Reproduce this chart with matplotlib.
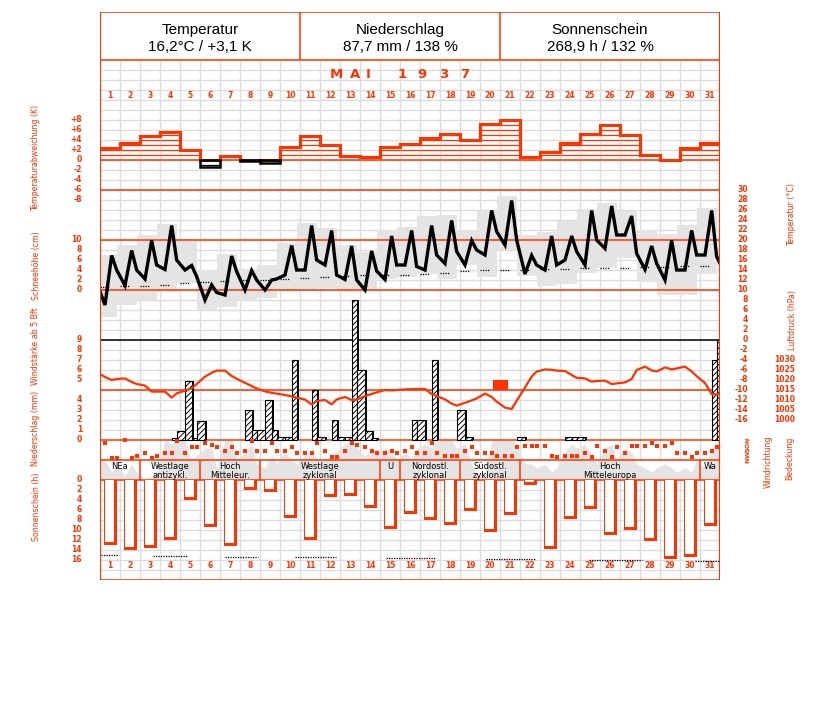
import numpy as np
import matplotlib
matplotlib.use("Agg")
import matplotlib.pyplot as plt
import matplotlib.transforms as mtransforms
from matplotlib import font_manager

# -- colours / fonts --
RED = "#ff3300"
GRAY = "#e4e4e4"
GRID = "#dcdcdc"
names = {f.name for f in font_manager.fontManager.ttflist}
SANS = "Liberation Sans" if "Liberation Sans" in names else "DejaVu Sans"

# -- data: Mai 1937 --
days = np.arange(1, 32)
obs = [0.25, 0.583, 0.833]          # 7h, 14h, 21h as fraction of the day

t_dev = [2.5, 3.5, 4.8, 5.7, 2.1, -1.3, 0.9, -0.1, -0.5, 2.6,
         4.8, 3.1, 0.9, 0.7, 2.7, 3.3, 4.5, 5.3, 4.0, 7.3,
         8.1, 0.7, 1.7, 3.5, 5.3, 7.1, 5.1, 1.1, 0.0, 2.5, 3.5]

t_07 = [7.0, 10.9, 12.2, 14.1, 14.0, 8.0, 9.0, 10.0, 10.0, 13.0,
        14.0, 15.0, 12.1, 10.0, 12.1, 15.0, 14.0, 15.3, 15.0, 17.0,
        19.0, 13.2, 14.0, 16.0, 15.0, 18.3, 21.0, 14.1, 12.0, 14.0, 17.0]
t_14 = [16.9, 17.9, 19.9, 22.9, 14.9, 11.0, 16.8, 13.9, 12.0, 18.9,
        22.9, 21.9, 18.8, 17.8, 20.8, 21.9, 22.9, 23.9, 19.9, 25.9,
        27.9, 16.9, 20.8, 20.8, 25.9, 26.8, 24.8, 18.8, 19.9, 21.9, 25.9]
t_21 = [14.0, 14.0, 15.0, 16.0, 12.7, 9.5, 13.7, 12.0, 12.2, 14.0,
        16.0, 13.0, 12.0, 13.8, 15.0, 14.7, 17.0, 17.7, 18.0, 21.7,
        20.0, 15.0, 15.0, 17.7, 20.0, 21.0, 17.3, 15.3, 14.0, 17.0, 16.7]
t_first, t_last = 9.7, 15.3        # 30 Apr 21h, 1 Jun 7h

t_max = [17.0, 19.0, 21.0, 23.2, 20.3, 14.1, 17.2, 14.3, 15.0, 19.5,
         23.5, 22.5, 19.0, 17.7, 22.1, 22.7, 24.8, 25.0, 22.1, 25.9,
         28.9, 21.0, 21.7, 23.9, 26.2, 27.5, 25.9, 22.0, 21.2, 23.0, 26.5]
t_min = [4.7, 7.0, 8.0, 9.7, 11.5, 6.0, 6.7, 8.0, 8.5, 10.0,
         10.3, 10.5, 9.7, 10.0, 12.3, 12.7, 13.3, 12.2, 15.0, 12.7,
         18.0, 12.8, 10.8, 11.3, 13.5, 14.5, 16.5, 11.7, 9.1, 9.1, 13.3]
t_norm = [10.7, 10.8, 10.9, 11.1, 11.4, 11.6, 11.9, 12.0, 12.1, 12.3,
          12.5, 12.6, 12.8, 13.0, 13.1, 13.1, 13.3, 13.5, 13.9, 14.0,
          14.0, 14.1, 14.2, 14.3, 14.4, 14.5, 14.5, 14.7, 14.7, 14.9, 14.9]

# precipitation (mm) 7-14h, 14-21h, 21-7h
rr_a = [0, 0, 0, 0, 5.9, 0, 0, 3.0, 4.0, 0.3, 0, 0, 0.3, 0.9, 0, 0,
        0, 0, 0.3, 0, 0, 0, 0, 0.3, 0, 0, 0, 0, 0, 0, 0]
rr_b = [0, 0, 0, 0.2, 0.2, 0, 0, 1.0, 1.0, 8.0, 5.0, 2.0, 14.0, 0.2, 0, 2.0,
        8.0, 0, 0, 0, 0, 0, 0, 0.3, 0, 0, 0, 0, 0, 0, 8.0]
rr_c = [0, 0, 0, 0.9, 1.9, 0, 0, 1.0, 0.3, 0, 0.3, 0.3, 7.0, 0, 0, 2.0,
        0, 3.0, 0, 0, 0.3, 0, 0, 0.3, 0, 0, 0, 0, 0, 0, 10.0]
thunder_days = [20]

# air pressure (hPa)
p_07 = [1021.5, 1020.8, 1017.2, 1014.2, 1014.7, 1021.7, 1024.7, 1018.6, 1014.3, 1012.5,
        1010.2, 1010.0, 1011.5, 1012.0, 1015.0, 1015.3, 1015.5, 1010.3, 1008.6, 1013.2,
        1006.2, 1016.3, 1025.3, 1024.5, 1020.8, 1019.7, 1018.8, 1026.7, 1026.3, 1026.7, 1018.5]
p_14 = [1020.0, 1019.0, 1014.2, 1011.2, 1015.8, 1023.6, 1022.0, 1017.0, 1013.6, 1011.8,
        1007.8, 1007.8, 1010.0, 1013.0, 1014.8, 1015.4, 1013.0, 1008.2, 1009.8, 1011.5,
        1005.5, 1021.7, 1025.1, 1022.5, 1019.2, 1018.0, 1020.5, 1024.8, 1025.3, 1024.3, 1013.0]
p_21 = [1020.5, 1018.0, 1014.2, 1013.3, 1018.0, 1024.7, 1020.6, 1015.8, 1013.2, 1011.2,
        1009.5, 1010.3, 1010.2, 1013.8, 1015.0, 1015.5, 1012.0, 1007.2, 1010.8, 1009.2,
        1009.6, 1024.2, 1024.7, 1021.1, 1019.5, 1018.3, 1025.0, 1024.3, 1025.8, 1021.9, 1012.8]
p_first, p_last = 1023.0, 1013.3

# wind direction (degrees) 7h, 14h, 21h
wd_07 = [48, 5, 228, 228, 228, 48, 192, 192, 192, 192, 228, 192, 192, 132, 228, 192,
         228, 288, 192, 228, 288, 102, 102, 288, 228, 192, 228, 102, 102, 228, 228]
wd_14 = [330, 330, 330, 228, 132, 90, 132, 12, 48, 132, 228, 312, 48, 192, 192, 132,
         48, 288, 132, 228, 288, 102, 288, 288, 312, 300, 102, 48, 48, 312, 192]
wd_21 = [330, 288, 288, 12, 132, 132, 228, 192, 192, 228, 48, 312, 90, 228, 228, 228,
         228, 288, 228, 288, 132, 102, 312, 288, 102, 132, 102, 102, 228, 228, 132]

# cloud cover (tenths) 7h, 14h, 21h
n_07 = [5, 1, 0, 10, 10, 8, 10, 7, 3, 7, 6, 5, 9, 6, 8, 7, 9, 10, 9, 2, 10, 4, 4, 7, 9, 8, 8, 3, 4, 3, 3]
n_14 = [2, 4, 1, 9, 5, 8, 10, 9, 6, 5, 7, 6, 10, 8, 7, 5, 8, 10, 4, 10, 10, 4, 2, 9, 6, 9, 7, 2, 3, 2, 8]
n_21 = [4, 2, 2, 10, 6, 3, 5, 4, 4, 4, 5, 7, 8, 7, 5, 8, 10, 8, 1, 10, 9, 3, 3, 8, 4, 5, 4, 3, 2, 5, 9]

# sunshine (h)
sun = [12.9, 14.0, 13.5, 11.9, 3.9, 9.4, 13.1, 1.9, 2.3, 7.5,
       11.9, 3.3, 3.2, 5.5, 9.7, 6.7, 7.9, 8.9, 6.1, 10.3,
       6.9, 1.0, 13.8, 7.7, 5.7, 11.0, 9.9, 12.2, 15.7, 15.4, 9.2]
sun_pos_from = [0.05, 2.63, 6.25, 9.75, 14.3, 19.3, 24.45, 29.75]
sun_pos_to = [0.9, 4.4, 7.9, 11.8, 16.8, 21.8, 27.1, 31.0]
sun_pos_val = [14.9, 15.1, 15.3, 15.4, 15.6, 15.8, 16.0, 16.2]

# Grosswetterlagen
wl_names = ["NEa", "Westlage\nantizykl.", "Hoch\nMitteleur.", "Westlage\nzyklonal", "U",
            "Nordostl.\nzyklonal", "Südostl.\nzyklonal", "Hoch\nMitteleuropa", "Wa"]
wl_first = [1, 3, 6, 9, 15, 16, 19, 22, 31]
wl_last = [2, 5, 8, 14, 15, 18, 21, 30, 31]

header = [("Temperatur", "16,2°C / +3,1 K"),
          ("Niederschlag", "87,7 mm / 138 %"),
          ("Sonnenschein", "268,9 h / 132 %")]

# -- figure: one axes, x = days, y = pixel rows of the sheet --
W, H = 827, 702
TOP, BOT, LEFT, RIGHT = 12, 580, 100, 720
fig = plt.figure(figsize=(W / 100, H / 100), dpi=100)
ax = fig.add_axes([LEFT / W, 1 - BOT / H, (RIGHT - LEFT) / W, (BOT - TOP) / H])
ax.set_autoscale_on(False)
ax.set_xlim(0, 31)
ax.set_ylim(BOT, TOP)
ax.axis("off")


def scale(y0, k):
    # value v is drawn at row y0 - k * v
    return mtransforms.Affine2D().scale(1, -k).translate(0, y0) + ax.transData


tr_dev = scale(160, 5)
tr_temp = scale(340, 5)
tr_pres = scale(2420, 2)
tr_rr = scale(440, 10)
tr_cloud = scale(480, 4)
tr_wind = scale(440, -1 / 18)
tr_sun = scale(480, -5)

# time axis of the terms
t_obs = (days[:, None] - 1 + np.array(obs)[None, :]).ravel()
t_line = np.concatenate([[0], t_obs, [31]])

# -- grid --
rows = np.arange(70, 580, 10)
rows = rows[(rows < 440) | (rows > 480)]
ax.hlines(rows, 0, 31, color=GRID, lw=1, zorder=0.5)
ax.vlines(np.arange(1, 31), 60, 460, color=GRID, lw=1, zorder=0.5)
ax.vlines(np.arange(1, 31), 480, 580, color=GRID, lw=1, zorder=0.5)

# red frame lines
for y in [12, 60, 190, 240, 290, 390, 440, 460, 480, 580]:
    ax.axhline(y, color=RED, lw=1.1, zorder=2)
ax.axhline(160, color=RED, lw=1.1, zorder=2)
ax.axhline(340, color="black", lw=1.1, zorder=2)
ax.axvline(0, color=RED, lw=1.5, zorder=6)
ax.axvline(31, color=RED, lw=1.5, zorder=6)
ax.vlines([10, 20], 12, 60, color=RED, lw=1.1)

# -- header --
for i, (title, val) in enumerate(header):
    ax.text(5 + 10 * i, 30, title, ha="center", va="center", fontsize=11, family=SANS)
    ax.text(5 + 10 * i, 47, val, ha="center", va="center", fontsize=11, family=SANS)

for ch, x in zip("MAI1937", [11.8, 12.75, 13.4, 15.1, 16.1, 17.2, 18.25]):
    ax.text(x, 75, ch, ha="center", va="center", fontsize=9.5, fontweight="bold",
            color=RED, family="DejaVu Sans")
for d in days:
    ax.text(d - 0.5, 95, str(d), ha="center", va="center", fontsize=5.5,
            fontweight="bold", color=RED)
    ax.text(d - 0.5, 565, str(d), ha="center", va="center", fontsize=5.5,
            fontweight="bold", color=RED)

# -- temperature deviation --
dev = np.array(t_dev)
for d, v in zip(days, dev):
    if v > 0:
        lv = np.arange(1, int(np.floor(v)) + 1)
        ax.hlines(lv, d - 1, d, color=RED, lw=0.9, transform=tr_dev, zorder=3)
ax.stairs(np.maximum(dev, 0), np.arange(32), baseline=None, color=RED, lw=2.2,
          transform=tr_dev, zorder=3.2)
for d, v in zip(days, dev):
    if v < 0:
        ax.bar(d - 0.5, v, width=1, fill=False, edgecolor="black", lw=1.8,
               transform=tr_dev, zorder=3.3)
        lv = np.arange(-1, int(np.ceil(v)) - 1, -1)
        lv = lv[lv > v]
        if len(lv):
            ax.hlines(lv, d - 1, d, color="black", lw=0.9, transform=tr_dev, zorder=3.3)

# -- temperature: min/max boxes, normal, terms --
tmin = np.array(t_min)
tmax = np.array(t_max)
ax.bar(days - 1.15, tmax - tmin, bottom=tmin, width=1, align="edge", color=GRAY,
       lw=0, transform=tr_temp, zorder=1)
for d, tn in zip(days, t_norm):
    ax.plot([d - 1.0, d - 0.5], [tn, tn], color="black", lw=0.9, ls=(0, (1, 1)),
            transform=tr_temp, zorder=2.5)
temp = np.concatenate([[t_first], np.column_stack([t_07, t_14, t_21]).ravel(), [t_last]])
ax.plot(t_line, temp, color="black", lw=2.4, solid_joinstyle="miter",
        transform=tr_temp, zorder=4)

# -- precipitation bars --
t_a0 = days - 1 + obs[0]
t_b0 = days - 1 + obs[1]
t_c0 = days - 1 + obs[2]
for x0, x1, rr in [(t_a0, t_b0, rr_a), (t_b0, t_c0, rr_b), (t_c0, days + obs[0], rr_c)]:
    rr = np.array(rr)
    m = rr > 0
    ax.bar(x0[m] + 0.12, rr[m], width=(x1 - x0)[m], align="edge", color="black",
           lw=0, transform=tr_rr, zorder=2.6)
plt.rcParams["hatch.linewidth"] = 0.7
for x0, x1, rr in [(t_a0, t_b0, rr_a), (t_b0, t_c0, rr_b), (t_c0, days + obs[0], rr_c)]:
    rr = np.array(rr)
    m = rr > 0
    ax.bar(x0[m], rr[m], width=(x1 - x0)[m], align="edge", facecolor="white",
           edgecolor="black", hatch="//////", lw=0.8, transform=tr_rr, zorder=2.7)

for d in thunder_days:
    ax.bar(d - 0.35, 10, bottom=380, width=0.75, align="edge", color=RED, lw=0, zorder=3)

# -- air pressure --
pres = np.concatenate([[p_first], np.column_stack([p_07, p_14, p_21]).ravel(), [p_last]])
ax.plot(t_line, pres, color=RED, lw=1.6, transform=tr_pres, zorder=3.5)

# -- cloud cover and wind direction --
cloud = np.column_stack([n_07, n_14, n_21]).ravel()
ax.fill_between(np.concatenate([[0], t_obs, [31]]),
                np.concatenate([[cloud[0]], cloud, [cloud[-1]]]), 0,
                color=GRAY, lw=0, transform=tr_cloud, zorder=1)
wind = np.column_stack([wd_07, wd_14, wd_21]).ravel()
ax.plot(t_obs, wind, ls="none", marker="s", ms=2.4, mew=0, color=RED,
        transform=tr_wind, zorder=3)

# -- Grosswetterlagen --
ax.vlines([f - 1 for f in wl_first[1:]], 460, 480, color=RED, lw=1.1, zorder=2)
for name, f, l in zip(wl_names, wl_first, wl_last):
    ax.text((f - 1 + l) / 2, 462, name, ha="center", va="top", fontsize=6,
            linespacing=1.05, zorder=5)

# -- sunshine --
s = np.array(sun)
ax.bar(days - 1 + 0.215, s, width=0.62, align="edge", color=RED, lw=0,
       transform=tr_sun, zorder=3)
ax.bar(days - 1 + 0.265, s - 0.55, width=0.44, align="edge", color="white", lw=0,
       transform=tr_sun, zorder=3.1)
for a, b, v in zip(sun_pos_from, sun_pos_to, sun_pos_val):
    ax.plot([a, b], [v, v], color="black", lw=0.9, ls=(0, (1, 1)), transform=tr_sun,
            zorder=3)

# -- axis labels --
tick_kw = dict(ha="right", va="center", fontsize=5.5, fontweight="bold", color=RED)
xl = -0.9    # left tick column
for v in range(8, -9, -2):
    ax.text(xl, 160 - 5 * v, f"{v:+d}" if v else "0", **tick_kw)
for v in range(10, -1, -2):
    ax.text(xl, 290 - 5 * v, str(v), **tick_kw)
for v in range(9, 4, -1):
    ax.text(xl, 340 + 10 * (9 - v), str(v), **tick_kw)
for v in range(4, -1, -1):
    ax.text(xl, 440 - 10 * v, str(v), **tick_kw)
for v in range(0, 17, 2):
    ax.text(xl, 480 + 5 * v, str(v), **tick_kw)
for v in range(30, -17, -2):
    ax.text(32.4, 340 - 5 * v, str(v), **tick_kw)
for v in range(1030, 999, -5):
    ax.text(34.75, 360 + 2 * (1030 - v), str(v), **tick_kw)
for v, lab in zip([440, 445, 450, 455, 460], "NOSWN"):
    ax.text(32.4, v, lab, ha="center", va="center", fontsize=4.5, fontweight="bold",
            color=RED, rotation=90)

lab_kw = dict(ha="center", va="center", rotation=90, fontsize=6.3, color=RED,
              family="DejaVu Sans", fontstretch="condensed")
for txt, y in [("Temperaturabweichung (K)", 158), ("Schneehöhe (cm)", 266),
               ("Windstärke ab 5 Bft", 346), ("Niederschlag (mm)", 428),
               ("Sonnenschein (h)", 507)]:
    ax.text(-3.2, y, txt, **lab_kw)
for txt, x, y in [("Temperatur (°C)", 34.6, 215), ("Luftdruck (hPa)", 34.6, 320),
                  ("Windrichtung", 33.4, 462), ("Bedeckung", 34.5, 458)]:
    ax.text(x, y, txt, **lab_kw)

fig.savefig("out.png", dpi=100)
